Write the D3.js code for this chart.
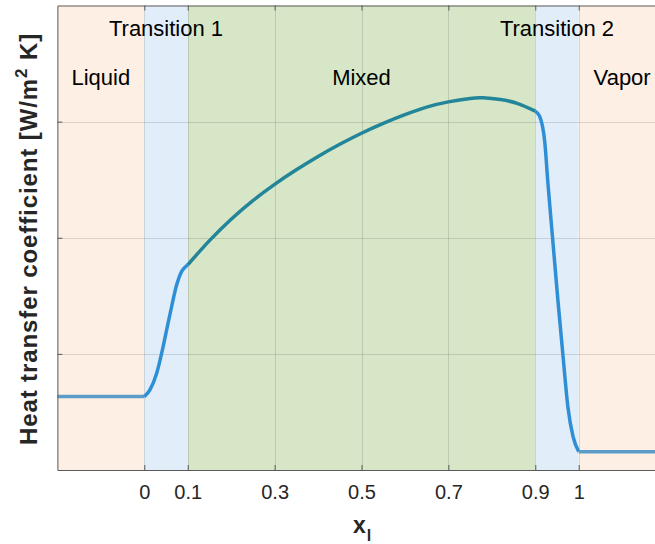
<!DOCTYPE html>
<html>
<head>
<meta charset="utf-8">
<script src="https://cdn.jsdelivr.net/npm/d3@7"></script>
<style>
html,body{margin:0;padding:0;background:#fff;}
svg{display:block;}
</style>
</head>
<body>
<svg id="chart" width="655" height="544"></svg>
<script>
// ---- data ----
const regionNames = ["Liquid", "Transition 1", "Mixed", "Transition 2", "Vapor"];
const regionStart = [-0.2, 0, 0.1, 0.9, 1.0];
const regionEnd   = [0, 0.1, 0.9, 1.0, 1.2];
const regionColors = ["#fdefe4", "#e1edf9", "#d6e6c6", "#e1edf9", "#fdefe4"];
const labelRow = [1, 0, 1, 0, 1];

const xTicks = [0, 0.1, 0.3, 0.5, 0.7, 0.9, 1];
const xTickLabels = ["0", "0.1", "0.3", "0.5", "0.7", "0.9", "1"];
const yTicks = [1, 2, 3];

const liquidX = [-0.2, 0];
const liquidY = [0.632, 0.632];
const trans1X = [0, 0.013, 0.0285, 0.040, 0.0515, 0.063, 0.0745, 0.086, 0.0975, 0.1];
const trans1Y = [0.632, 0.69, 0.833, 1.006, 1.207, 1.408, 1.595, 1.71, 1.759, 1.767];
const mixedX = [0.1, 0.15, 0.2, 0.25, 0.3, 0.35, 0.4, 0.45, 0.5, 0.55, 0.6, 0.65, 0.7, 0.75, 0.78, 0.82, 0.86, 0.9];
const mixedY = [1.767, 1.975, 2.16, 2.32, 2.46, 2.585, 2.70, 2.805, 2.90, 2.985, 3.06, 3.125, 3.17, 3.20, 3.205, 3.19, 3.155, 3.09];
const trans2X = [0.9, 0.910, 0.922, 0.929, 0.940, 0.952, 0.964, 0.975, 0.987, 1.0];
const trans2Y = [3.09, 3.046, 2.819, 2.474, 1.99, 1.466, 0.976, 0.545, 0.287, 0.158];
const vaporX = [1.0, 1.2];
const vaporY = [0.158, 0.158];

const seriesX = [liquidX, trans1X, mixedX, trans2X, vaporX];
const seriesY = [liquidY, trans1Y, mixedY, trans2Y, vaporY];
const seriesColors = ["#5b9dc8", "#2f8fd5", "#23859a", "#2f8fd5", "#5b9dc8"];

// ---- layout ----
const svg = d3.select("#chart");
const pLeft = 57.4, pRight = 665.6, pTop = 5.5, pBottom = 470;
const x = d3.scaleLinear().domain([-0.2, 1.2]).range([pLeft, pRight]);
const y = d3.scaleLinear().domain([0, 4]).range([pBottom, pTop]);

// region patches
svg.append("g").selectAll("rect").data(regionNames).join("rect")
  .attr("x", (d, i) => x(regionStart[i]))
  .attr("y", y(4))
  .attr("width", (d, i) => x(regionEnd[i]) - x(regionStart[i]))
  .attr("height", y(0) - y(4))
  .attr("fill", (d, i) => regionColors[i]);

// grid
const grid = svg.append("g").attr("stroke", "rgba(38,38,38,0.15)").attr("stroke-width", 1);
grid.selectAll("line.gx").data(xTicks).join("line")
  .attr("x1", d => Math.round(x(d)) + 0.5).attr("x2", d => Math.round(x(d)) + 0.5)
  .attr("y1", y(0)).attr("y2", y(4));
grid.selectAll("line.gy").data(yTicks).join("line")
  .attr("y1", d => Math.round(y(d)) + 0.5).attr("y2", d => Math.round(y(d)) + 0.5)
  .attr("x1", x(-0.2)).attr("x2", x(1.2));

// curves
const lineMono = d3.line().x(d => x(d[0])).y(d => y(d[1])).curve(d3.curveMonotoneX);
const lineNat = d3.line().x(d => x(d[0])).y(d => y(d[1])).curve(d3.curveNatural);
seriesX.forEach((xs, i) => {
  const pts = xs.map((v, j) => [v, seriesY[i][j]]);
  svg.append("path").datum(pts)
    .attr("d", i === 2 ? lineNat : lineMono)
    .attr("fill", "none")
    .attr("stroke", seriesColors[i])
    .attr("stroke-width", 3.5)
    .attr("stroke-linejoin", "round")
    .attr("stroke-linecap", "butt");
});

// axes box
const axisColor = "#5a5a5a";
const ax = svg.append("g");
const xAxisB = d3.axisBottom(x).tickValues(xTicks).tickFormat((d, i) => xTickLabels[i]).tickSizeInner(-5).tickSizeOuter(0).tickPadding(15);
const gxb = ax.append("g").attr("transform", `translate(0,${pBottom})`).call(xAxisB);
gxb.select(".domain").attr("stroke", axisColor);
gxb.selectAll(".tick line").attr("stroke", axisColor);
gxb.selectAll(".tick text").attr("font-family", "Liberation Sans, Arial, sans-serif").attr("font-size", 20).attr("fill", "#262626");

const xAxisT = d3.axisTop(x).tickValues(xTicks).tickFormat("").tickSizeInner(-5).tickSizeOuter(0);
const gxt = ax.append("g").attr("transform", `translate(0,${pTop})`).call(xAxisT);
gxt.select(".domain").attr("stroke", axisColor);
gxt.selectAll(".tick line").attr("stroke", axisColor);

const yAxisL = d3.axisLeft(y).tickValues(yTicks).tickFormat("").tickSizeInner(-5).tickSizeOuter(0);
const gyl = ax.append("g").attr("transform", `translate(${pLeft},0)`).call(yAxisL);
gyl.select(".domain").attr("stroke", axisColor);
gyl.selectAll(".tick line").attr("stroke", axisColor);

// region labels
svg.append("g").selectAll("text").data(regionNames).join("text")
  .attr("x", (d, i) => (x(regionStart[i]) + x(regionEnd[i])) / 2)
  .attr("y", (d, i) => labelRow[i] ? 85 : 36)
  .attr("text-anchor", "middle")
  .attr("font-family", "Liberation Sans, Arial, sans-serif")
  .attr("font-size", 22)
  .attr("fill", "#000")
  .text(d => d);

// x label
const xl = svg.append("text")
  .attr("x", 362).attr("y", 533)
  .attr("text-anchor", "middle")
  .attr("font-family", "Liberation Sans, Arial, sans-serif")
  .attr("font-weight", "bold")
  .attr("font-size", 23)
  .attr("fill", "#262626");
xl.append("tspan").text("x");
xl.append("tspan").attr("font-size", 16).attr("dy", 8).attr("dx", 1).text("l");

// y label
const yl = svg.append("text")
  .attr("transform", "translate(37,239) rotate(-90)")
  .attr("text-anchor", "middle")
  .attr("font-family", "Liberation Sans, Arial, sans-serif")
  .attr("font-weight", "bold")
  .attr("font-size", 24)
  .attr("letter-spacing", 0.9)
  .attr("fill", "#262626");
yl.append("tspan").text("Heat transfer coefficient [W/m");
yl.append("tspan").attr("font-size", 17).attr("dy", -10).text("2");
yl.append("tspan").attr("dy", 10).text(" K]");
</script>
</body>
</html>
